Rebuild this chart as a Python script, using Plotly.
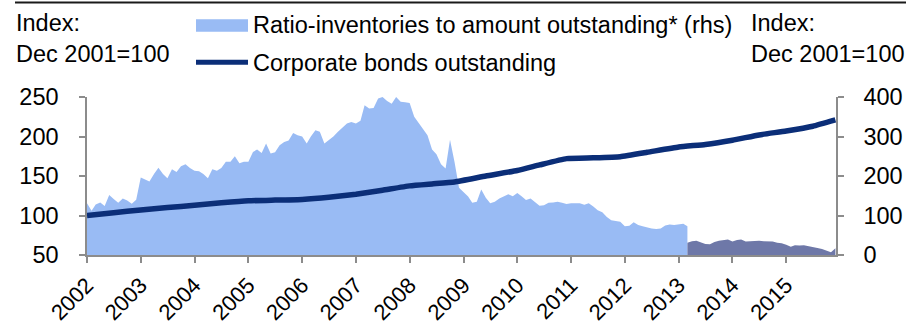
import plotly.graph_objects as go

# Ratio of inventories to amount outstanding (rhs), monthly, Jan 2002 - Mar 2013
ratio_start = "2002-01-01"
ratio_values = [
    131, 112, 128, 133, 124, 152, 142, 132, 143, 138, 130, 140,   # 2002
    196, 190, 186, 205, 221, 205, 194, 217, 210, 225, 230, 220,   # 2003
    213, 212, 205, 194, 217, 213, 220, 236, 236, 250, 232, 236,   # 2004
    236, 261, 267, 258, 282, 257, 260, 278, 286, 290, 309, 303,   # 2005
    300, 282, 300, 316, 312, 282, 290, 300, 312, 322, 333, 337,   # 2006
    333, 340, 379, 371, 372, 396, 400, 390, 383, 400, 388, 387,   # 2007
    385, 350, 334, 318, 303, 267, 255, 230, 219, 292, 235, 170,   # 2008
    160, 148, 132, 135, 166, 145, 131, 135, 143, 148, 154, 149,   # 2009
    157, 148, 139, 143, 133, 125, 126, 132, 133, 135, 132, 129,   # 2010
    131, 131, 131, 127, 131, 123, 113, 108, 96, 88, 85, 84,       # 2011
    73, 74, 83, 76, 73, 70, 67, 66, 67, 75, 77, 76,               # 2012
    78, 79, 73,                                                   # 2013 Q1
]

# Same ratio on the new basis (rhs), monthly, Mar 2013 - Dec 2015
ratio_new_start = "2013-03-01"
ratio_new_values = [
    31, 35, 36, 32, 28, 27, 33, 36, 37, 39,                       # 2013
    34, 38, 39, 34, 35, 36, 36, 35, 34, 34, 31, 30,               # 2014
    26, 21, 25, 24, 25, 23, 21, 18, 15, 12, 7, 17,                # 2015
]

# Corporate bonds outstanding, index Dec 2001 = 100 (lhs)
bonds_dates = [
    "2002-01-01", "2002-07-01", "2003-01-01", "2003-07-01", "2004-01-01",
    "2004-07-01", "2005-01-01", "2005-07-01", "2006-01-01", "2006-07-01",
    "2007-01-01", "2007-07-01", "2008-01-01", "2008-06-01", "2008-11-01",
    "2009-06-01", "2010-01-01", "2010-06-01", "2010-12-01", "2011-06-01",
    "2011-12-01", "2012-06-01", "2013-01-01", "2013-07-01", "2014-01-01",
    "2014-07-01", "2015-01-01", "2015-07-01", "2015-12-01",
]
bonds_values = [
    100, 103.5, 107, 110, 113,
    116, 118.6, 119.5, 120.4, 123,
    127, 132, 137.5, 140, 142.5,
    150, 157, 164, 172, 173,
    174.5, 180, 186.8, 190, 195.3,
    202, 207, 213, 221,
]

years = list(range(2002, 2016))
left_ticks = [50, 100, 150, 200, 250]
right_ticks = [0, 100, 200, 300, 400]


def monthly_dates(start, n):
    y, m = int(start[:4]), int(start[5:7])
    out = []
    for _ in range(n):
        out.append(f"{y:04d}-{m:02d}-01")
        m += 1
        if m > 12:
            m, y = 1, y + 1
    return out


ratio_dates = monthly_dates(ratio_start, len(ratio_values))
ratio_new_dates = monthly_dates(ratio_new_start, len(ratio_new_values))

LIGHT = "#99BBF4"
DARK = "#6E78A8"
NAVY = "#0B2E78"
AXIS = "#8C8C8C"
FONT = "Liberation Sans, Arial, sans-serif"
FS = 23.5

W, H = 906, 328
ML, MR, MT, MB = 87, 70, 97, 73
PW, PH = W - ML - MR, H - MT - MB


def px(x):
    return (x - ML) / PW


def py(y):
    return (H - MB - y) / PH


fig = go.Figure()

fig.add_trace(go.Scatter(
    x=ratio_dates, y=ratio_values, yaxis="y", mode="lines",
    line=dict(width=0, color=LIGHT), fill="tozeroy", fillcolor=LIGHT,
    name="Ratio-inventories to amount outstanding* (rhs)", showlegend=False,
))
fig.add_trace(go.Scatter(
    x=ratio_new_dates, y=ratio_new_values, yaxis="y", mode="lines",
    line=dict(width=0, color=DARK), fill="tozeroy", fillcolor=DARK,
    name="Ratio (new basis)", showlegend=False,
))
fig.add_trace(go.Scatter(
    x=bonds_dates, y=bonds_values, yaxis="y2", mode="lines",
    line=dict(width=5.5, color=NAVY, shape="spline", smoothing=0.4),
    name="Corporate bonds outstanding", showlegend=False,
))

axis_common = dict(
    showgrid=False, zeroline=False, showline=True, linecolor=AXIS, linewidth=1.5,
    ticks="outside", ticklen=6, tickwidth=1.5, tickcolor=AXIS, automargin=False,
    tickfont=dict(family=FONT, size=FS, color="#000"),
)

fig.update_layout(
    width=W, height=H,
    margin=dict(l=ML, r=MR, t=MT, b=MB, pad=0),
    paper_bgcolor="white", plot_bgcolor="white",
    font=dict(family=FONT, size=FS, color="#000"),
    xaxis=dict(
        type="date", range=["2002-01-01", "2015-12-05"],
        tickvals=[f"{y}-01-01" for y in years], ticktext=[str(y) for y in years],
        tickangle=-45, ticklabelstandoff=1,
        **{**axis_common, "tickfont": dict(family=FONT, size=22, color="#000")},
    ),
    yaxis=dict(
        side="right", range=[0, 400], tickvals=right_ticks,
        ticklabelstandoff=15, **axis_common,
    ),
    yaxis2=dict(
        side="left", overlaying="y", range=[50, 250], tickvals=left_ticks,
        ticklabelstandoff=16, **axis_common,
    ),
    showlegend=False,
)

# Legend swatches and top rule
fig.add_shape(type="line", xref="paper", yref="paper",
              x0=px(15), x1=px(906), y0=py(2.5), y1=py(2.5),
              line=dict(color="#1a1a1a", width=2))
fig.add_shape(type="rect", xref="paper", yref="paper",
              x0=px(196), x1=px(248), y0=py(31.7), y1=py(19.3),
              line=dict(width=0), fillcolor=LIGHT)
fig.add_shape(type="line", xref="paper", yref="paper",
              x0=px(196), x1=px(248), y0=py(62.3), y1=py(62.3),
              line=dict(color=NAVY, width=5))


def label(text, x, y):
    fig.add_annotation(text=text, xref="paper", yref="paper",
                       x=px(x), y=py(y), xanchor="left", yanchor="middle",
                       showarrow=False, font=dict(family=FONT, size=FS, color="#000"))


label("Index:", 14, 23)
label("Dec 2001=100", 14, 54)
label("Index:", 749, 23)
label("Dec 2001=100", 749, 54)
label("Ratio-inventories to amount outstanding* (rhs)", 251, 25)
label("Corporate bonds outstanding", 251, 63)

fig.write_html("out.html")
